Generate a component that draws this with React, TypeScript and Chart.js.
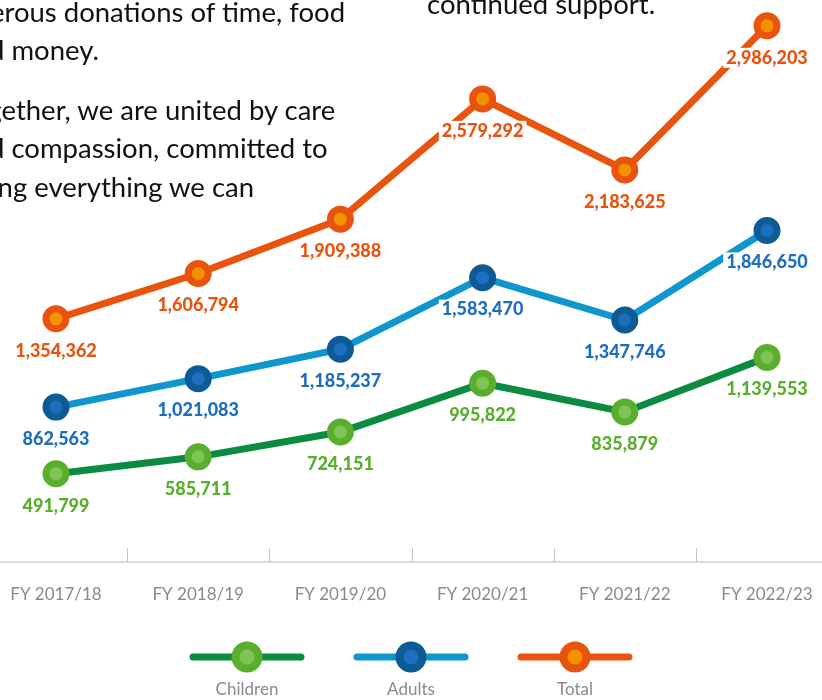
import React, { useEffect, useRef } from "react";
import { Chart, registerables } from "chart.js";

Chart.register(...registerables);

const categories = ["FY 2017/18", "FY 2018/19", "FY 2019/20", "FY 2020/21", "FY 2021/22", "FY 2022/23"];
const childrenValues = [491799, 585711, 724151, 995822, 835879, 1139553];
const adultsValues = [862563, 1021083, 1185237, 1583470, 1347746, 1846650];
const totalValues = [1354362, 1606794, 1909388, 2579292, 2183625, 2986203];
const seriesNames = ["Children", "Adults", "Total"];
const yMin = 0;
const yMax = 3130000;

const leftTextLines = [
  { text: "generous donations of time, food", shift: -54, top: -7 },
  { text: "and money.", shift: -40, top: 31 },
  { text: "Together, we are united by care", shift: -41, top: 91 },
  { text: "and compassion, committed to", shift: -40, top: 129 },
  { text: "doing everything we can", shift: -40, top: 168 },
];
const rightTextLines = ["continued support."];

const styles = [
  { line: "#0B8A41", ring: "#5AAE2E", fill: "#80C457", label: "#5AAE2E" },
  { line: "#0E96CD", ring: "#0C5A96", fill: "#1E6EBE", label: "#1E6EBE" },
  { line: "#E8530E", ring: "#E8530E", fill: "#F39200", label: "#E8530E" },
];

const fmt = (v: number) => v.toLocaleString("en-US");

const axisPlugin = {
  id: "axisDecor",
  beforeDatasetsDraw(chart: any) {
    const { ctx } = chart;
    const x = chart.scales.x;
    const y = chart.scales.y;
    const y0 = y.getPixelForValue(yMin);
    ctx.save();
    ctx.strokeStyle = "#cfcfcf";
    ctx.lineWidth = 1.5;
    ctx.beginPath();
    ctx.moveTo(0, y0);
    ctx.lineTo(chart.width, y0);
    ctx.stroke();
    ctx.strokeStyle = "#c4c4c4";
    ctx.lineWidth = 1;
    for (let i = 0; i < categories.length - 1; i++) {
      const xm = Math.round((x.getPixelForValue(i) + x.getPixelForValue(i + 1)) / 2) + 0.5;
      ctx.beginPath();
      ctx.moveTo(xm, y0);
      ctx.lineTo(xm, y0 - 14);
      ctx.stroke();
    }
    ctx.restore();
  },
};

const labelPlugin = {
  id: "valueLabels",
  afterDatasetsDraw(chart: any) {
    const { ctx } = chart;
    ctx.save();
    ctx.font = "900 18px Lato";
    ctx.textAlign = "center";
    ctx.textBaseline = "middle";
    chart.data.datasets.forEach((ds: any, di: number) => {
      const meta = chart.getDatasetMeta(di);
      meta.data.forEach((pt: any, i: number) => {
        const txt = fmt(ds.data[i]);
        const w = ctx.measureText(txt).width;
        const lx = pt.x;
        const ly = pt.y + 32;
        ctx.fillStyle = "#ffffff";
        ctx.fillRect(lx - w / 2 - 3, ly - 10, w + 6, 20);
        ctx.fillStyle = styles[di].label;
        ctx.fillText(txt, lx, ly);
      });
    });
    ctx.restore();
  },
};

const legendPlugin = {
  id: "customLegend",
  afterDraw(chart: any) {
    const { ctx } = chart;
    const cx = chart.width / 2;
    const gap = 164;
    const yLine = 657;
    ctx.save();
    chart.data.datasets.forEach((ds: any, di: number) => {
      const c = cx + (di - 1) * gap;
      const s = styles[di];
      ctx.strokeStyle = s.line;
      ctx.lineWidth = 7;
      ctx.lineCap = "round";
      ctx.beginPath();
      ctx.moveTo(c - 54, yLine);
      ctx.lineTo(c + 54, yLine);
      ctx.stroke();
      ctx.beginPath();
      ctx.arc(c, yLine, 11.5, 0, Math.PI * 2);
      ctx.fillStyle = s.fill;
      ctx.fill();
      ctx.lineWidth = 8;
      ctx.strokeStyle = s.ring;
      ctx.stroke();
      ctx.fillStyle = "#8a8a8a";
      ctx.font = "400 17px Lato";
      ctx.textAlign = "center";
      ctx.textBaseline = "middle";
      ctx.fillText(ds.label, c, 690);
    });
    ctx.restore();
  },
};

export default function App() {
  const ref = useRef<HTMLCanvasElement | null>(null);

  useEffect(() => {
    if (!ref.current) return;
    const seriesData = [childrenValues, adultsValues, totalValues];
    const chart = new Chart(ref.current, {
      type: "line",
      data: {
        labels: categories,
        datasets: seriesData.map((d, i) => ({
          label: seriesNames[i],
          data: d,
          borderColor: styles[i].line,
          borderWidth: 7,
          backgroundColor: styles[i].fill,
          pointBackgroundColor: styles[i].fill,
          pointBorderColor: styles[i].ring,
          pointRadius: 10,
          pointHoverRadius: 10,
          pointBorderWidth: 7,
          pointHoverBorderWidth: 7,
          tension: 0,
          fill: false,
          clip: false as any,
        })),
      },
      options: {
        responsive: false,
        animation: false,
        devicePixelRatio: 1,
        layout: { autoPadding: false, padding: { left: 56, right: 55, top: 0, bottom: 96 } },
        plugins: {
          legend: { display: false },
          tooltip: { enabled: false },
          title: { display: false },
        },
        scales: {
          x: {
            offset: false,
            grid: { display: false, drawTicks: false },
            border: { display: false },
            ticks: {
              color: "#8a8a8a",
              font: { family: "Lato", size: 17, weight: 400 as any },
              padding: 22,
              maxRotation: 0,
              autoSkip: false,
            },
            afterFit(scale: any) {
              scale.paddingLeft = 0;
              scale.paddingRight = 0;
              scale.height = 42;
            },
          },
          y: {
            display: false,
            min: yMin,
            max: yMax,
          },
        },
      },
      plugins: [axisPlugin, labelPlugin, legendPlugin],
    });
    return () => chart.destroy();
  }, []);

  const textStyle: React.CSSProperties = {
    position: "absolute",
    whiteSpace: "nowrap",
    fontFamily: "Lato, sans-serif",
    fontSize: 27.5,
    lineHeight: "38px",
    color: "#111",
  };

  return (
    <div style={{ position: "fixed", left: 0, top: 0, width: 822, height: 700, overflow: "hidden", background: "#fff" }}>
      <canvas ref={ref} width={822} height={700} style={{ position: "absolute", left: 0, top: 0, width: 822, height: 700 }} />
      <div style={{ position: "absolute", left: 0, top: 0, width: 400, height: 230, overflow: "hidden", pointerEvents: "none" }}>
        {leftTextLines.map((l, i) => (
          <div key={i} style={{ ...textStyle, left: l.shift, top: l.top }}>
            {l.text}
          </div>
        ))}
      </div>
      {rightTextLines.map((t, i) => (
        <div key={i} style={{ ...textStyle, left: 427, top: -15 + i * 38 }}>
          {t}
        </div>
      ))}
    </div>
  );
}
